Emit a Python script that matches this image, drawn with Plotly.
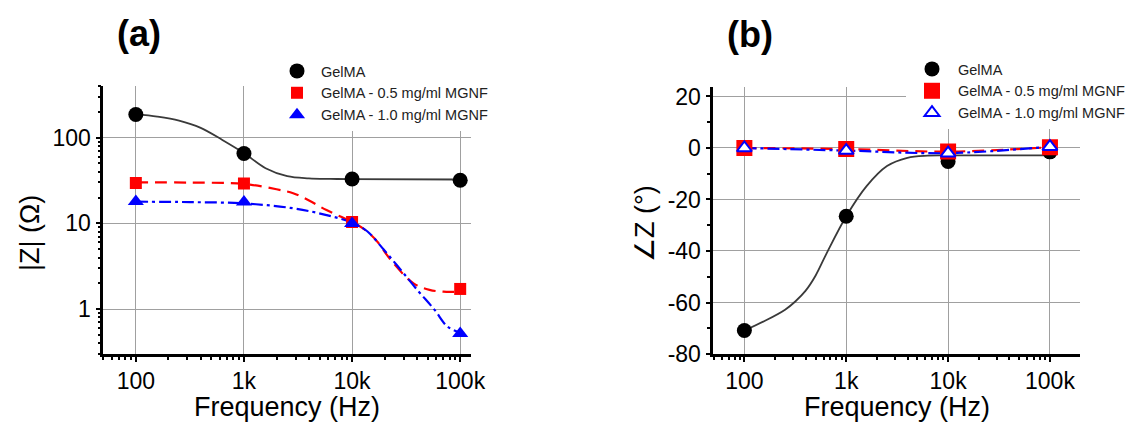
import plotly.graph_objects as go

# ---------------- data ----------------
freq = [100, 1000, 10000, 100000]
freq_labels = ["100", "1k", "10k", "100k"]

# (a) impedance magnitude |Z| (Ohm)
gel_mag = [186, 65.4, 32.9, 31.9]
r05_mag = [29.5, 29.2, 10.4, 1.72]
r10_mag = [18.0, 17.8, 10.0, 0.52]

# fitted curves (a)
fit_gel_mag_f = [100, 158, 251, 398, 631, 1000, 1585, 2512, 3981, 6310, 10000, 100000]
fit_gel_mag = [188, 176, 158, 130, 94, 66, 44, 35.5, 33.5, 33, 32.8, 32.5]
fit_r05_mag_f = [100, 316, 1000, 2000, 2850, 4000, 5800, 10000, 13000, 17000, 22600, 37000, 52000, 70000, 100000]
fit_r05_mag = [30, 29.9, 28.8, 25.0, 22.5, 18.5, 14.3, 10.4, 8.5, 6.2, 3.8, 2.0, 1.68, 1.6, 1.6]
fit_r10_mag_f = [100, 316, 1000, 2850, 5800, 10000, 13800, 19600, 28000, 40000, 58000, 76000, 100000]
fit_r10_mag = [17.9, 17.7, 17.1, 15, 12.5, 10.2, 8.1, 4.95, 2.9, 1.68, 0.98, 0.63, 0.53]

# (b) phase angle (deg)
gel_phase = [-70.9, -26.5, -5.2, -1.5]
r05_phase = [0.0, -0.4, -1.4, 0.3]
r10_phase = [0.0, -1.0, -2.0, 0.5]

fit_gel_phase_f = [100, 158, 251, 316, 398, 501, 631, 1000, 1585, 2512, 3981, 6310, 10000, 100000]
fit_gel_phase = [-70.9, -67.2, -62.8, -59.6, -55.5, -49.5, -41.5, -26.5, -14.8, -7.0, -3.8, -3.0, -2.9, -2.9]

names = ["GelMA", "GelMA - 0.5 mg/ml MGNF", "GelMA - 1.0 mg/ml MGNF"]

# ---------------- style ----------------
FONT = "Liberation Sans, Arial, sans-serif"
BLACK_LINE = "#3a3a3a"
RED = "#ff0000"
BLUE = "#0000ff"
GRID = "#a0a0a0"
W, H = 1132, 426
RED_DASH = "12px,7px"
BLUE_DASH = "12px,4px,3px,4px"


def px_x(p):
    return p / W


def px_y(p):
    return 1 - p / H


def curve(x, y, color, dash, xa, ya, width=2.2):
    return go.Scatter(x=x, y=y, mode="lines", showlegend=False, hoverinfo="skip", xaxis=xa, yaxis=ya,
                      line=dict(color=color, width=width, dash=dash, shape="spline", smoothing=1.0))


fig = go.Figure()

# ---- panel (a)
fig.add_trace(curve(fit_gel_mag_f, fit_gel_mag, BLACK_LINE, "solid", "x", "y", 1.8))
fig.add_trace(curve(fit_r05_mag_f, fit_r05_mag, RED, RED_DASH, "x", "y"))
fig.add_trace(curve(fit_r10_mag_f, fit_r10_mag, BLUE, BLUE_DASH, "x", "y"))
fig.add_trace(go.Scatter(x=freq, y=gel_mag, mode="markers", name=names[0], marker=dict(symbol="circle", size=15, color="black"),
                         xaxis="x", yaxis="y", legend="legend"))
fig.add_trace(go.Scatter(x=freq, y=r05_mag, mode="markers", name=names[1], marker=dict(symbol="square", size=12, color=RED),
                         xaxis="x", yaxis="y", legend="legend"))
fig.add_trace(go.Scatter(x=freq, y=r10_mag, mode="markers", name=names[2], marker=dict(symbol="triangle-up", size=14, color=BLUE),
                         xaxis="x", yaxis="y", legend="legend"))

# ---- panel (b)
fig.add_trace(curve(fit_gel_phase_f, fit_gel_phase, BLACK_LINE, "solid", "x2", "y2", 1.8))
fig.add_trace(curve(freq, r05_phase, RED, RED_DASH, "x2", "y2"))
fig.add_trace(curve(freq, r10_phase, BLUE, BLUE_DASH, "x2", "y2"))
fig.add_trace(go.Scatter(x=freq, y=gel_phase, mode="markers", name=names[0], marker=dict(symbol="circle", size=15, color="black"),
                         xaxis="x2", yaxis="y2", legend="legend2"))
fig.add_trace(go.Scatter(x=freq, y=r05_phase, mode="markers", name=names[1], marker=dict(symbol="square", size=16, color=RED),
                         xaxis="x2", yaxis="y2", legend="legend2"))
fig.add_trace(go.Scatter(x=freq, y=r10_phase, mode="markers", name=names[2],
                         marker=dict(symbol="triangle-up", size=13, color="white", line=dict(color=BLUE, width=2)),
                         xaxis="x2", yaxis="y2", legend="legend2"))

minor_log_x = [m * 10 ** e for e in range(1, 6) for m in range(2, 10)]
minor_log_y = [m * 10 ** e for e in range(-1, 3) for m in range(2, 10)]

axis_common = dict(showline=True, linecolor="black", linewidth=2.6, ticks="outside", ticklen=5, tickwidth=2,
                   tickcolor="black", showgrid=True, gridcolor=GRID, gridwidth=1, zeroline=False,
                   tickfont=dict(family=FONT, size=23, color="black"), mirror=False, automargin=False)
minor_log = dict(ticks="outside", ticklen=3, tickwidth=1.5, tickcolor="black", showgrid=False)
legend_common = dict(xanchor="left", yanchor="top", bgcolor="white", borderwidth=0,
                     font=dict(family=FONT, size=14.5, color="#222222"), tracegroupgap=0, itemclick=False)

fig.update_layout(
    width=W, height=H, margin=dict(l=0, r=0, t=0, b=0, autoexpand=False),
    paper_bgcolor="white", plot_bgcolor="white",
    font=dict(family=FONT, color="black"),
    xaxis=dict(domain=[px_x(103.3), px_x(471)], type="log", range=[1.699, 5.10], anchor="y",
               tickmode="array", tickvals=freq, ticktext=freq_labels,
               minor=dict(tickvals=minor_log_x, **minor_log), **axis_common),
    yaxis=dict(domain=[1 - 354 / H, 1 - 86 / H], type="log", range=[-0.523, 2.602], anchor="x",
               tickmode="array", tickvals=[1, 10, 100], ticktext=["1", "10", "100"],
               minor=dict(tickvals=minor_log_y, **minor_log), **axis_common),
    xaxis2=dict(domain=[px_x(713.3), px_x(1080)], type="log", range=[1.695, 5.295], anchor="y2",
                tickmode="array", tickvals=freq, ticktext=freq_labels,
                minor=dict(tickvals=minor_log_x, **minor_log), **axis_common),
    yaxis2=dict(domain=[1 - 354 / H, 1 - 86.7 / H], range=[-80, 23.8], anchor="x2",
                tickmode="array", tickvals=[-80, -60, -40, -20, 0, 20], ticktext=["-80", "-60", "-40", "-20", "0", "20"],
                minor=dict(dtick=10, ticks="outside", ticklen=4, tickwidth=2, tickcolor="black", showgrid=False),
                **axis_common),
    legend=dict(x=px_x(273), y=px_y(55), itemwidth=38, **legend_common),
    legend2=dict(x=px_x(906), y=px_y(53), itemwidth=42, **legend_common),
    annotations=[
        dict(text="<b>(a)</b>", x=px_x(139), y=px_y(33), xref="paper", yref="paper", showarrow=False,
             font=dict(family=FONT, size=36, color="black"), xanchor="center", yanchor="middle"),
        dict(text="<b>(b)</b>", x=px_x(750), y=px_y(35), xref="paper", yref="paper", showarrow=False,
             font=dict(family=FONT, size=36, color="black"), xanchor="center", yanchor="middle"),
        dict(text="|Z| (Ω)", x=px_x(30), y=px_y(233), xref="paper", yref="paper", showarrow=False, textangle=-90,
             font=dict(family=FONT, size=27, color="black"), xanchor="center", yanchor="middle"),
        dict(text="∠Z (°)", x=px_x(645), y=px_y(224), xref="paper", yref="paper", showarrow=False, textangle=-90,
             font=dict(family=FONT, size=27, color="black"), xanchor="center", yanchor="middle"),
        dict(text="Frequency (Hz)", x=px_x(287), y=px_y(390), xref="paper", yref="paper", showarrow=False,
             font=dict(family=FONT, size=27, color="black"), xanchor="center", yanchor="top"),
        dict(text="Frequency (Hz)", x=px_x(896.7), y=px_y(390), xref="paper", yref="paper", showarrow=False,
             font=dict(family=FONT, size=27, color="black"), xanchor="center", yanchor="top"),
    ],
)

fig.write_html("out.html")
